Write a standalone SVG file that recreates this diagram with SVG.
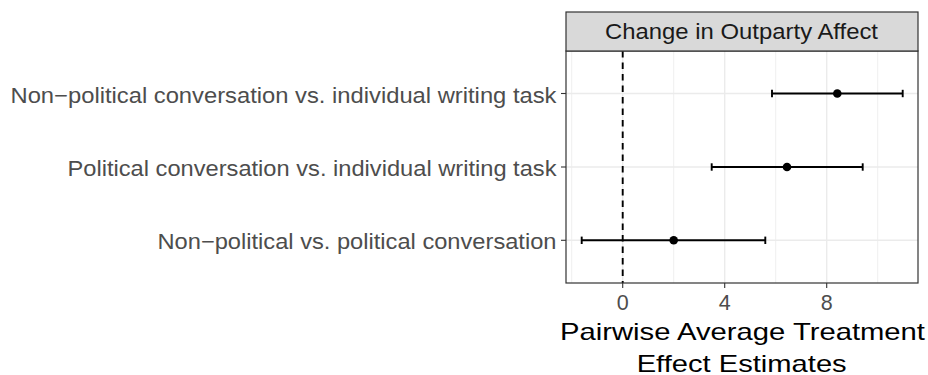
<svg xmlns="http://www.w3.org/2000/svg" width="928" height="375" viewBox="0 0 928 375">
<style>
.ylab{font-family:"Liberation Sans",Arial,sans-serif;font-size:22px;fill:#4D4D4D;text-anchor:end}
.xlab{font-family:"Liberation Sans",Arial,sans-serif;font-size:21.5px;fill:#4D4D4D;text-anchor:middle}
.title{font-family:"Liberation Sans",Arial,sans-serif;font-size:24px;fill:#000;text-anchor:middle}
.strip{font-family:"Liberation Sans",Arial,sans-serif;font-size:22px;fill:#1A1A1A;text-anchor:middle}
.gmaj{stroke:#EBEBEB;stroke-width:1.4}
.gmin{stroke:#EBEBEB;stroke-width:0.8}
.tick{stroke:#333333;stroke-width:1.1}
.eb{stroke:#000;stroke-width:1.9;fill:none}
</style>
<rect width="928" height="375" fill="#fff"/>
<g id="grid">
<line class="gmin" x1="571.7" y1="51" x2="571.7" y2="283"/>
<line class="gmin" x1="673.7" y1="51" x2="673.7" y2="283"/>
<line class="gmin" x1="775.7" y1="51" x2="775.7" y2="283"/>
<line class="gmin" x1="877.7" y1="51" x2="877.7" y2="283"/>
<line class="gmaj" x1="622.7" y1="51" x2="622.7" y2="283"/>
<line class="gmaj" x1="724.7" y1="51" x2="724.7" y2="283"/>
<line class="gmaj" x1="826.7" y1="51" x2="826.7" y2="283"/>
<line class="gmaj" x1="566" y1="93.5" x2="918" y2="93.5"/>
<line class="gmaj" x1="566" y1="167" x2="918" y2="167"/>
<line class="gmaj" x1="566" y1="240.3" x2="918" y2="240.3"/>
</g>
<g id="zero-line">
<line x1="622.7" y1="51" x2="622.7" y2="283" stroke="#000" stroke-width="1.9" stroke-dasharray="6.5,5"/>
</g>
<g id="connectors">
<g id="row1">
<line class="eb" x1="772" y1="93.5" x2="902.7" y2="93.5"/>
<line class="eb" x1="772" y1="89.8" x2="772" y2="97.2"/>
<line class="eb" x1="902.7" y1="89.8" x2="902.7" y2="97.2"/>
<circle cx="837.3" cy="93.5" r="4.3" fill="#000"/>
</g>
<g id="row2">
<line class="eb" x1="711.7" y1="167" x2="862.7" y2="167"/>
<line class="eb" x1="711.7" y1="163.3" x2="711.7" y2="170.7"/>
<line class="eb" x1="862.7" y1="163.3" x2="862.7" y2="170.7"/>
<circle cx="787" cy="167" r="4.3" fill="#000"/>
</g>
<g id="row3">
<line class="eb" x1="581.7" y1="240.3" x2="765.3" y2="240.3"/>
<line class="eb" x1="581.7" y1="236.6" x2="581.7" y2="244"/>
<line class="eb" x1="765.3" y1="236.6" x2="765.3" y2="244"/>
<circle cx="673.7" cy="240.3" r="4.3" fill="#000"/>
</g>
</g>
<g id="panel">
<rect x="566" y="51" width="352" height="232" fill="none" stroke="#333333" stroke-width="1.2"/>
</g>
<g id="strip">
<rect x="566" y="12" width="352" height="39" fill="#D9D9D9" stroke="#333333" stroke-width="1.2"/>
<text class="strip" x="741.5" y="39" textLength="273" lengthAdjust="spacingAndGlyphs">Change in Outparty Affect</text>
</g>
<g id="axes">
<line class="tick" x1="561" y1="93.5" x2="566" y2="93.5"/>
<line class="tick" x1="561" y1="167" x2="566" y2="167"/>
<line class="tick" x1="561" y1="240.3" x2="566" y2="240.3"/>
<line class="tick" x1="622.7" y1="283" x2="622.7" y2="288"/>
<line class="tick" x1="724.7" y1="283" x2="724.7" y2="288"/>
<line class="tick" x1="826.7" y1="283" x2="826.7" y2="288"/>
<text class="ylab" x="556.5" y="102.5" textLength="546" lengthAdjust="spacingAndGlyphs">Non−political conversation vs. individual writing task</text>
<text class="ylab" x="556.5" y="176" textLength="489" lengthAdjust="spacingAndGlyphs">Political conversation vs. individual writing task</text>
<text class="ylab" x="556.5" y="249.3" textLength="399" lengthAdjust="spacingAndGlyphs">Non−political vs. political conversation</text>
<text class="xlab" x="622.7" y="310">0</text>
<text class="xlab" x="724.7" y="310">4</text>
<text class="xlab" x="826.7" y="310">8</text>
<text class="title" x="742.5" y="340" textLength="365" lengthAdjust="spacingAndGlyphs">Pairwise Average Treatment</text>
<text class="title" x="741.7" y="372" textLength="210" lengthAdjust="spacingAndGlyphs">Effect Estimates</text>
</g>
</svg>
